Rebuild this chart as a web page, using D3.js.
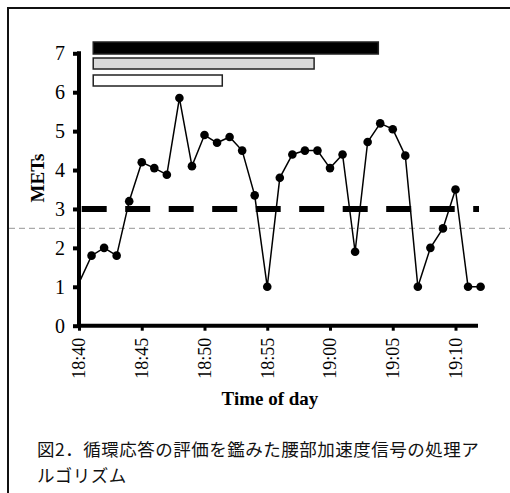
<!DOCTYPE html>
<meta charset="utf-8">
<style>
  body { margin: 0; background: #fff; }
  .tick-y text, .tick-x text { font-family: "Liberation Serif", serif; fill: #000; }
  .caption { font-family: "Noto Sans CJK JP", sans-serif; font-size: 17.5px; letter-spacing: 0.5px; fill: #111; }
</style>
<body></body>
<script src="https://d3js.org/d3.v7.min.js"></script>
<script>
// sample times (one per minute) and METs values
var times = ["18:40","18:41","18:42","18:43","18:44","18:45","18:46","18:47","18:48","18:49",
             "18:50","18:51","18:52","18:53","18:54","18:55","18:56","18:57","18:58","18:59",
             "19:00","19:01","19:02","19:03","19:04","19:05","19:06","19:07","19:08","19:09",
             "19:10","19:11","19:12"];
var mets = [1.1, 1.8, 2.0, 1.8, 3.2, 4.2, 4.05, 3.88, 5.85, 4.1,
            4.9, 4.7, 4.85, 4.5, 3.35, 1.0, 3.8, 4.4, 4.5, 4.5,
            4.05, 4.4, 1.9, 4.72, 5.2, 5.05, 4.37, 1.0, 2.0, 2.5,
            3.5, 1.0, 1.0];
var yTicks = [0, 1, 2, 3, 4, 5, 6, 7];
var xTicks = ["18:40","18:45","18:50","18:55","19:00","19:05","19:10"];
// period bars above the plot
var periodStart = ["18:41:08", "18:41:08", "18:41:08"];
var periodEnd = ["19:03:51", "18:58:44", "18:51:25"];
var periodFill = ["#000", "#d9d9d9", "#fff"];
var threshold = 3;
var cutoff = 2.5;
var caption = ["図2．循環応答の評価を鑑みた腰部加速度信号の処理ア", "ルゴリズム"];

var W = 510, H = 493;
var parse = d3.timeParse("%H:%M");
var parseS = d3.timeParse("%H:%M:%S");

var svg = d3.select("body").append("svg").attr("width", W).attr("height", H);

// frame (top and left edge only)
svg.append("path").attr("d", "M8,493V8H510").attr("fill", "none")
  .attr("stroke", "#111").attr("stroke-width", 2);

var x = d3.scaleTime().domain([parse("18:40"), parse("19:12")]).range([79, 480.6]);
var y = d3.scaleLinear().domain([0, 7]).range([325.7, 53.3]);

// gray cutoff line across whole width
svg.append("line").attr("x1", 9).attr("x2", W)
  .attr("y1", y(cutoff)).attr("y2", y(cutoff))
  .attr("stroke", "#aaa").attr("stroke-width", 1.2).attr("stroke-dasharray", "6,4");

// threshold dashed line
svg.append("line").attr("x1", 79).attr("x2", 479)
  .attr("y1", y(threshold)).attr("y2", y(threshold))
  .attr("stroke", "#000").attr("stroke-width", 6).attr("stroke-dasharray", "25,18.5")
  .attr("stroke-dashoffset", -2.7);

// period bars
var barY = [42, 58, 75], barH = [12, 11, 11];
periodStart.forEach(function (s, i) {
  svg.append("rect")
    .attr("x", x(parseS(s))).attr("y", barY[i])
    .attr("width", x(parseS(periodEnd[i])) - x(parseS(s))).attr("height", barH[i])
    .attr("fill", periodFill[i]).attr("stroke", "#222").attr("stroke-width", 1.5);
});

// axes
var xAxis = svg.append("g").attr("class", "tick-x")
  .attr("transform", "translate(0," + y(0) + ")")
  .call(d3.axisBottom(x).tickValues(xTicks.map(parse)).tickSize(5).tickSizeOuter(0)
    .tickFormat(d3.timeFormat("%H:%M")));
xAxis.select(".domain").attr("d", "M77," + 0 + "H478").attr("stroke-width", 4);
xAxis.selectAll(".tick line").attr("stroke-width", 3);
xAxis.selectAll(".tick text")
  .attr("font-size", 18).attr("transform", "rotate(-90)")
  .attr("text-anchor", "end").attr("x", -12).attr("y", 0).attr("dy", "0.33em");

var yAxis = svg.append("g").attr("class", "tick-y")
  .attr("transform", "translate(79,0)")
  .call(d3.axisLeft(y).tickValues(yTicks).tickSize(6).tickSizeOuter(0).tickFormat(d3.format("d")));
yAxis.select(".domain").attr("d", "M0," + (y(0) + 2) + "V" + (y(7) - 2)).attr("stroke-width", 4);
yAxis.selectAll(".tick line").attr("stroke-width", 4);
yAxis.selectAll(".tick text").attr("font-size", 20).attr("x", -14);

// series line and dots
var pts = times.map(function (t, i) { return { t: parse(t), v: mets[i] }; });
svg.append("path").datum(pts)
  .attr("fill", "none").attr("stroke", "#000").attr("stroke-width", 1.5)
  .attr("d", d3.line().x(function (d) { return x(d.t); }).y(function (d) { return y(d.v); }));
svg.selectAll("circle.pt").data(pts.slice(1)).enter().append("circle")
  .attr("class", "pt").attr("r", 4.3)
  .attr("cx", function (d) { return x(d.t); }).attr("cy", function (d) { return y(d.v); })
  .attr("fill", "#000");

// axis titles
svg.append("text").attr("x", 270).attr("y", 405).attr("text-anchor", "middle")
  .attr("font-family", "Liberation Serif, serif").attr("font-weight", "bold").attr("font-size", 19)
  .text("Time of day");
svg.append("text").attr("transform", "translate(44,178) rotate(-90)").attr("text-anchor", "middle")
  .attr("font-family", "Liberation Serif, serif").attr("font-weight", "bold").attr("font-size", 19)
  .text("METs");

// caption, two lines
svg.selectAll("text.caption").data(caption).enter().append("text")
  .attr("class", "caption").attr("x", 37)
  .attr("y", function (d, i) { return 456 + i * 25.5; })
  .text(function (d) { return d; });
</script>
